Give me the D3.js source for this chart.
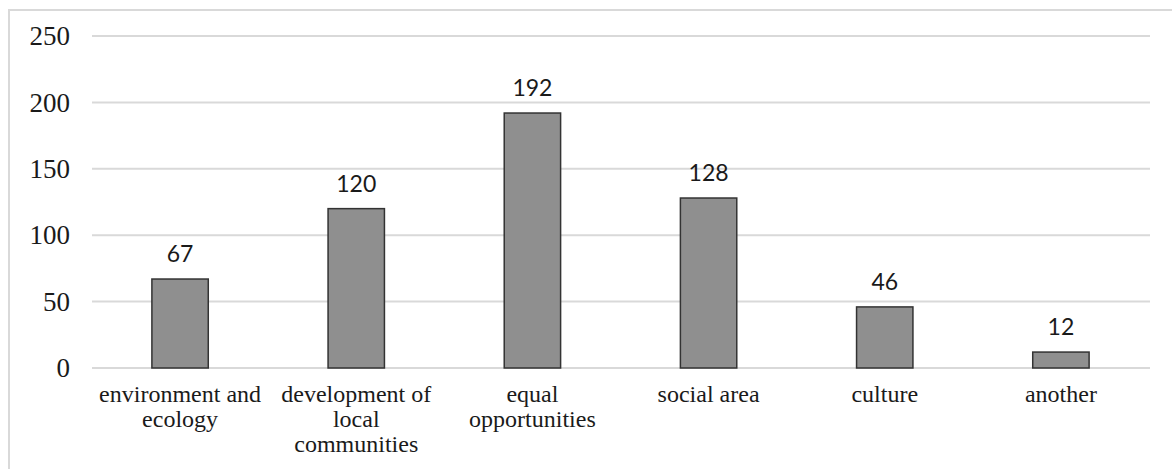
<!DOCTYPE html>
<html>
<head>
<meta charset="utf-8">
<script src="https://cdn.jsdelivr.net/npm/d3@7"></script>
<style>
    body { margin: 0; background: #fff; }
    svg { display: block; }
</style>
</head>
<body>
<div id="chart"></div>
<script>
var categories = ["environment and ecology", "development of local communities", "equal opportunities", "social area", "culture", "another"];
var labelLines = [["environment and", "ecology"], ["development of", "local", "communities"], ["equal", "opportunities"], ["social area"], ["culture"], ["another"]];
var values = [67, 120, 192, 128, 46, 12];
var yTicks = [0, 50, 100, 150, 200, 250];

var width = 1172, height = 469;

var svg = d3.select("#chart").append("svg")
    .attr("width", width)
    .attr("height", height);

// outer frame, runs off the right and bottom edges
svg.append("rect")
    .attr("x", 9).attr("y", 10)
    .attr("width", width).attr("height", height)
    .attr("fill", "none")
    .attr("stroke", "#d9d9d9")
    .attr("stroke-width", 2);

var x = d3.scaleBand()
    .domain(categories)
    .range([92, 1149])
    .paddingInner(0.68)
    .paddingOuter(0.34);

var y = d3.scaleLinear()
    .domain([0, 250])
    .range([368, 36]);

// gridlines
svg.append("g")
    .selectAll("line")
    .data(yTicks)
    .enter()
    .append("line")
    .attr("x1", 92).attr("x2", 1150)
    .attr("y1", function (d) { return y(d); })
    .attr("y2", function (d) { return y(d); })
    .attr("stroke", "#d9d9d9")
    .attr("stroke-width", 2);

// y tick labels
var yAxis = d3.axisLeft(y).tickValues(yTicks).tickSize(0).tickPadding(0);
var gy = svg.append("g").attr("transform", "translate(70,0)").call(yAxis);
gy.select(".domain").remove();
gy.selectAll("text")
    .attr("fill", "#1a1a1a")
    .style("font-family", "'Liberation Serif', 'Times New Roman', serif")
    .style("font-size", "27px");

// bars
svg.append("g")
    .selectAll("rect")
    .data(values)
    .enter()
    .append("rect")
    .attr("x", function (d, i) { return x(categories[i]); })
    .attr("y", function (d) { return y(d); })
    .attr("width", x.bandwidth())
    .attr("height", function (d) { return y(0) - y(d); })
    .attr("fill", "#8f8f8f")
    .attr("stroke", "#333")
    .attr("stroke-width", 1.5);

// value labels
svg.append("g")
    .selectAll("text")
    .data(values)
    .enter()
    .append("text")
    .attr("x", function (d, i) { return x(categories[i]) + x.bandwidth() / 2; })
    .attr("y", function (d) { return y(d) - 17; })
    .attr("text-anchor", "middle")
    .attr("fill", "#1a1a1a")
    .style("font-family", "Lato, 'Open Sans', sans-serif")
    .style("font-size", "23px")
    .text(function (d) { return d; });

// category labels, wrapped by hand
var cat = svg.append("g")
    .selectAll("text")
    .data(labelLines)
    .enter()
    .append("text")
    .attr("text-anchor", "middle")
    .attr("fill", "#1a1a1a")
    .style("font-family", "'Liberation Serif', 'Times New Roman', serif")
    .style("font-size", "24px");

cat.each(function (lines, i) {
    var t = d3.select(this);
    lines.forEach(function (line, j) {
        t.append("tspan")
            .attr("x", x(categories[i]) + x.bandwidth() / 2)
            .attr("y", 402 + j * 25)
            .text(line);
    });
});
</script>
</body>
</html>
